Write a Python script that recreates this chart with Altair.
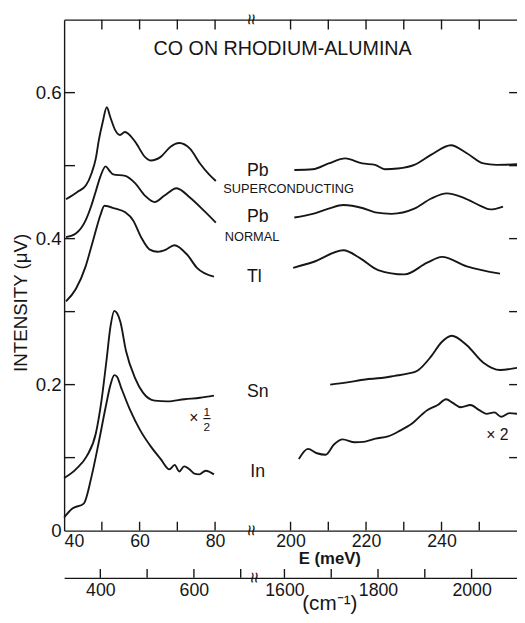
import altair as alt
import pandas as pd

INK = "#161616"
FONT = "Liberation Sans"

# ---------------- data (E in meV, intensity in microvolts) ----------------
pb_sc_left_E = [40.5, 43.5, 45.8, 47.3, 48.4, 49.2, 50.2, 51.3, 52.2, 53.5, 54.8, 56.1, 58.8, 61.4, 63.0, 65.6, 68.2, 70.5, 73.4, 76.0, 78.4, 80.2]
pb_sc_left_I = [0.454, 0.464, 0.473, 0.490, 0.510, 0.535, 0.559, 0.580, 0.567, 0.549, 0.542, 0.546, 0.533, 0.512, 0.507, 0.512, 0.526, 0.531, 0.523, 0.503, 0.488, 0.479]
pb_sc_right_E = [201.0, 205.9, 210.1, 214.5, 219.0, 222.4, 225.0, 228.4, 232.8, 237.3, 242.5, 246.7, 251.1, 254.5, 260.0]
pb_sc_right_I = [0.494, 0.495, 0.503, 0.510, 0.503, 0.501, 0.495, 0.496, 0.501, 0.515, 0.528, 0.517, 0.503, 0.501, 0.502]

pb_n_left_E = [40.5, 43.1, 45.7, 47.2, 48.4, 49.6, 51.0, 52.0, 53.0, 56.2, 58.8, 61.4, 64.0, 66.6, 69.8, 73.4, 77.1, 80.2]
pb_n_left_I = [0.402, 0.407, 0.425, 0.445, 0.465, 0.485, 0.499, 0.493, 0.488, 0.486, 0.476, 0.459, 0.450, 0.459, 0.469, 0.456, 0.438, 0.422]
pb_n_right_E = [201.0, 205.9, 210.1, 214.0, 219.0, 222.4, 226.8, 232.8, 237.3, 241.4, 245.9, 250.3, 252.9, 256.3]
pb_n_right_I = [0.429, 0.434, 0.441, 0.446, 0.442, 0.436, 0.434, 0.441, 0.455, 0.462, 0.456, 0.445, 0.440, 0.444]

tl_left_E = [40.5, 43.1, 45.7, 47.0, 48.4, 49.6, 50.7, 53.6, 56.2, 58.3, 60.4, 62.7, 64.8, 67.0, 69.2, 72.6, 75.2, 79.7]
tl_left_I = [0.314, 0.331, 0.362, 0.385, 0.411, 0.432, 0.445, 0.441, 0.436, 0.425, 0.402, 0.385, 0.382, 0.385, 0.391, 0.378, 0.360, 0.348]
tl_right_E = [200.7, 206.0, 214.0, 218.5, 223.2, 230.2, 236.2, 240.1, 246.7, 255.5]
tl_right_I = [0.360, 0.368, 0.384, 0.373, 0.357, 0.351, 0.367, 0.375, 0.362, 0.352]

sn_left_E = [40.0, 43.1, 46.0, 48.4, 49.9, 51.2, 52.3, 53.3, 54.0, 54.9, 56.4, 58.8, 60.9, 64.0, 67.4, 71.9, 76.0, 79.7]
sn_left_I = [0.072, 0.084, 0.102, 0.133, 0.178, 0.232, 0.280, 0.301, 0.298, 0.286, 0.246, 0.209, 0.189, 0.178, 0.177, 0.180, 0.182, 0.185]
sn_right_E = [210.5, 215.0, 219.8, 224.0, 227.6, 231.0, 233.6, 237.3, 240.0, 242.7, 246.7, 251.1, 255.5, 260.0]
sn_right_I = [0.200, 0.203, 0.207, 0.209, 0.212, 0.215, 0.219, 0.239, 0.258, 0.267, 0.254, 0.230, 0.220, 0.223]

in_left_E = [40.0, 42.1, 45.2, 47.3, 49.1, 51.0, 52.3, 53.3, 54.0, 55.1, 57.5, 60.1, 63.0, 65.6, 67.9, 69.3, 70.5, 71.8, 73.2, 74.5, 75.8, 77.5, 79.7]
in_left_I = [0.018, 0.030, 0.037, 0.075, 0.119, 0.169, 0.200, 0.213, 0.211, 0.196, 0.165, 0.138, 0.115, 0.098, 0.084, 0.090, 0.081, 0.088, 0.084, 0.078, 0.077, 0.082, 0.077]
in_right_E = [202.2, 204.6, 207.0, 209.3, 211.5, 213.8, 217.0, 219.8, 222.5, 225.8, 229.0, 232.0, 236.2, 239.0, 241.2, 243.0, 245.1, 247.7, 250.0, 251.9, 254.0, 255.8, 258.0, 260.0]
in_right_I = [0.098, 0.112, 0.106, 0.104, 0.118, 0.125, 0.121, 0.122, 0.126, 0.129, 0.137, 0.146, 0.165, 0.172, 0.180, 0.175, 0.169, 0.172, 0.165, 0.160, 0.162, 0.156, 0.161, 0.160]

segments = [
    ("Pb superconducting", "low", pb_sc_left_E, pb_sc_left_I),
    ("Pb superconducting", "high", pb_sc_right_E, pb_sc_right_I),
    ("Pb normal", "low", pb_n_left_E, pb_n_left_I),
    ("Pb normal", "high", pb_n_right_E, pb_n_right_I),
    ("Tl", "low", tl_left_E, tl_left_I),
    ("Tl", "high", tl_right_E, tl_right_I),
    ("Sn", "low", sn_left_E, sn_left_I),
    ("Sn", "high", sn_right_E, sn_right_I),
    ("In", "low", in_left_E, in_left_I),
    ("In", "high", in_right_E, in_right_I),
]

# axis tick values (meV and cm^-1); broken axis: 90-190 meV is cut out
mev_ticks = [50, 60, 70, 80, 200, 210, 220, 230, 240, 250]
mev_labels = [40, 60, 80, 200, 220, 240]
cm_ticks = [400, 500, 600, 700, 1600, 1700, 1800, 1900, 2000]
cm_labels = [400, 600, 1600, 1800, 2000]
y_ticks = [0.1, 0.2, 0.3, 0.4, 0.5, 0.6]
y_labels = [0, 0.2, 0.4, 0.6]
MEV_PER_CM = 1 / 8.0655

E_MIN, E_MAX, Y0, Y1 = 40, 260, 0.0, 0.7
X0, X1 = 40, 160             # plotted (broken) axis range
W, H = 460, 519
PX_X = (X1 - X0) / W         # meV per pixel on the plotted axis
PX_Y = (Y1 - Y0) / H         # microvolts per pixel

rows = []
for name, part, es, vs in segments:
    for e, v in zip(es, vs):
        rows.append({"seg": f"{name} {part}", "E": e, "I": v, "w": 1.9})


# inward-pointing frame ticks, drawn as two-point segments in the same layer
def add_tick(tid, ea, ya, eb, yb):
    rows.append({"seg": tid, "E": ea, "I": ya, "w": 1.4})
    rows.append({"seg": tid, "E": eb, "I": yb, "w": 1.4})


for v in mev_ticks:
    add_tick(f"tick b{v}", v, Y0, v, Y0 + 9 * PX_Y)          # bottom, pointing up
    add_tick(f"tick t{v}", v, Y1, v, Y1 - 10 * PX_Y)         # top, pointing down
for c in cm_ticks:
    e = c * MEV_PER_CM
    add_tick(f"tick c{c}", e, Y0 - 48 * PX_Y, e, Y0 - 39 * PX_Y)  # cm^-1 axis
for v in y_ticks:
    add_tick(f"tick l{v}", E_MIN, v, E_MIN + 11 * PX_X, v)   # left, pointing right
    add_tick(f"tick r{v}", E_MAX - 8 * PX_X, v, E_MAX, v)    # right, pointing left
df = pd.DataFrame(rows)


def eff(e):
    return e if e < 150 else e - 100


xs = alt.Scale(domain=[X0, X1], nice=False, zero=False)
ys = alt.Scale(domain=[Y0, Y1], nice=False, zero=False)

base_axis = dict(grid=False, domainColor=INK, labelColor=INK, labelFont=FONT, labelFontSize=18,
                 domainWidth=1.4, ticks=False, tickSize=0, title=None, labelOverlap=False,
                 labelBound=False)

ax_x_main = alt.Axis(orient="bottom", values=[eff(v) for v in mev_labels],
                     labelExpr="'' + (datum.value > 90 ? datum.value + 100 : datum.value)",
                     labelPadding=2, labelFlush=True, **base_axis)
ax_x_top = alt.Axis(orient="top", values=[], labels=False, **base_axis)
cm_expr = "round((datum.value > 90 ? datum.value + 100 : datum.value) * 8.0655)"
ax_x_cm = alt.Axis(orient="bottom", offset=48, values=[eff(c * MEV_PER_CM) for c in cm_labels],
                   labelPadding=4, labelExpr="'' + " + cm_expr, **base_axis)
ax_y_main = alt.Axis(orient="left", values=y_labels, labelPadding=3, labelFontSize=19,
                     labelExpr="datum.value == 0 ? '0' : format(datum.value, '.1f')",
                     **{k: v for k, v in base_axis.items() if k != "labelFontSize"})

lines = alt.Chart(df).transform_calculate(
    eff="datum.E > 150 ? datum.E - 100 : datum.E"
).mark_line(color=INK, strokeJoin="round", interpolate="monotone").encode(
    x=alt.X("eff:Q", scale=xs, axis=ax_x_main),
    y=alt.Y("I:Q", scale=ys, axis=ax_y_main),
    strokeWidth=alt.StrokeWidth("w:Q", scale=None, legend=None),
    detail="seg:N",
    order="E:Q",
)

carrier_df = pd.DataFrame({"eff": [40.0], "I": [0.0]})


def carrier(xaxis, yaxis):
    return alt.Chart(carrier_df).mark_point(opacity=0).encode(
        x=alt.X("eff:Q", scale=xs, axis=xaxis),
        y=alt.Y("I:Q", scale=ys, axis=yaxis),
    )


def text_layer(items, size, weight="normal", angle=0):
    d = pd.DataFrame(items, columns=["x", "y", "t"])
    return alt.Chart(d).mark_text(font=FONT, fontSize=size, fontWeight=weight, color=INK,
                                  align="center", baseline="middle", angle=angle).encode(
        x=alt.X("x:Q", scale=xs, axis=None),
        y=alt.Y("y:Q", scale=ys, axis=None),
        text="t:N",
    )


title_t = text_layer([(97.9, 0.660, "CO ON RHODIUM-ALUMINA")], 20)
metal_t = text_layer([(91.3, 0.492, "Pb"), (91.3, 0.429, "Pb"), (90.4, 0.347, "Tl"),
                      (91.3, 0.190, "Sn"), (91.3, 0.080, "In")], 18)
state_t = text_layer([(99.5, 0.468, "SUPERCONDUCTING"), (89.8, 0.402, "NORMAL")], 13)
mult_t = text_layer([(74.4, 0.154, "×"), (154.8, 0.1315, "× 2")], 16)
frac_t = text_layer([(77.8, 0.162, "1"), (77.8, 0.1425, "2")], 12)
frac_bar = alt.Chart(pd.DataFrame({"x": [76.9], "x2": [78.8], "y": [0.1535]})).mark_rule(
    color=INK, strokeWidth=1.2).encode(
    x=alt.X("x:Q", scale=xs, axis=None), x2="x2:Q", y=alt.Y("y:Q", scale=ys, axis=None))
emev_t = text_layer([(110.4, -0.0385, "E (meV)")], 17, weight="bold")
cm_t = text_layer([(110.4, -0.101, "(cm⁻¹)")], 21)
ytitle_t = text_layer([(28.5, 0.312, "INTENSITY (μV)")], 19, angle=270)
break_t = text_layer([(89.6, 0.7, "≈"), (89.6, 0.0, "≈"), (90.3, -0.0647, "≈")], 20, angle=90)

chart = alt.layer(
    lines,
    carrier(ax_x_top, None),
    carrier(ax_x_cm, None),
    title_t, metal_t, state_t, mult_t, frac_t, frac_bar, emev_t, cm_t, ytitle_t, break_t,
).resolve_axis(x="independent", y="independent").properties(
    width=W, height=H,
    autosize=alt.AutoSizeParams(type="none"),
    padding={"left": 57, "top": 7, "right": 0, "bottom": 88},
    background="white",
).configure_view(stroke=None)

chart.save("out.html", embed_options={"renderer": "svg", "actions": False})
